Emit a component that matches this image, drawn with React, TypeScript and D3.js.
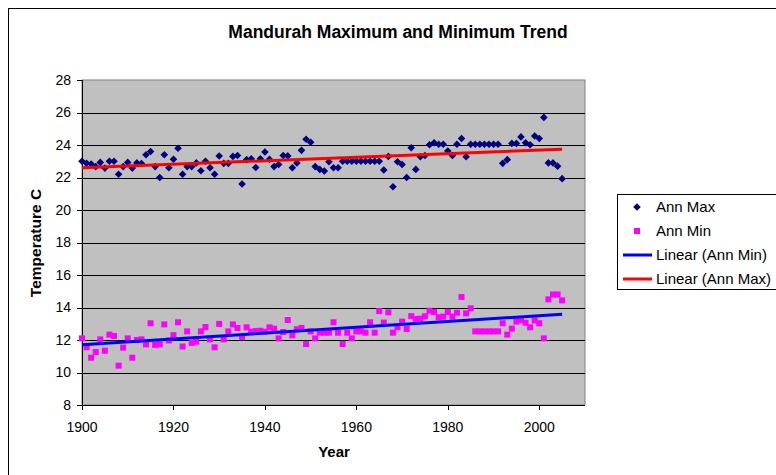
import React from 'react';
import * as d3 from 'd3';

const years = d3.range(1900, 2006);

const annMax = [
  23.0, 22.87, 22.83, 22.67, 22.93, 22.58, 23.0, 23.0, 22.2, 22.67,
  22.93, 22.58, 22.9, 22.86, 23.4, 23.6, 22.67, 22.0, 23.4, 22.6,
  23.12, 23.8, 22.2, 22.67, 22.67, 22.9, 22.42, 23.0, 22.6, 22.2,
  23.32, 22.87, 22.87, 23.3, 23.35, 21.6, 23.1, 23.15, 22.62, 23.15,
  23.57, 23.12, 22.67, 22.8, 23.35, 23.33, 22.6, 22.9, 23.67, 24.35,
  24.17, 22.67, 22.5, 22.4, 22.97, 22.6, 22.6, 23.0, 23.0, 23.0,
  23.0, 23.0, 23.0, 23.0, 23.0, 23.0, 22.46, 23.3, 21.43, 22.97,
  22.8, 22.0, 23.83, 22.5, 23.28, 23.35, 24.02, 24.14, 24.05, 24.05,
  23.63, 23.35, 24.05, 24.4, 23.28, 24.05, 24.05, 24.05, 24.05, 24.05,
  24.05, 24.05, 22.87, 23.1, 24.1, 24.1, 24.5, 24.14, 24.02, 24.55,
  24.4, 25.7, 22.9, 22.9, 22.7, 21.93,
];

const annMin = [
  12.1, 11.55, 10.91, 11.26, 12.04, 11.34, 12.33, 12.25, 10.42, 11.53,
  12.1, 10.91, 12.0, 12.04, 11.73, 13.03, 11.7, 11.73, 12.96, 11.97,
  12.3, 13.09, 11.6, 12.53, 11.82, 11.9, 12.53, 12.8, 12.04, 11.55,
  12.99, 12.04, 12.53, 12.96, 12.74, 12.18, 12.78, 12.51, 12.55, 12.57,
  12.51, 12.78, 12.7, 12.1, 12.49, 13.23, 12.29, 12.66, 12.74, 11.75,
  12.53, 12.1, 12.45, 12.45, 12.45, 13.09, 12.45, 11.75, 12.45, 12.1,
  12.53, 12.53, 12.45, 13.09, 12.45, 13.78, 13.07, 13.7, 12.45, 12.78,
  13.13, 12.68, 13.47, 13.3, 13.31, 13.46, 13.8, 13.72, 13.4, 13.44,
  13.72, 13.44, 13.68, 14.65, 13.64, 13.95, 12.53, 12.53, 12.53, 12.53,
  12.53, 12.53, 13.03, 12.33, 12.7, 13.13, 13.23, 13.06, 12.78, 13.2,
  13.03, 12.1, 14.5, 14.8, 14.8, 14.44,
];

const xTicks = [1900, 1920, 1940, 1960, 1980, 2000];
const yTicks = [8, 10, 12, 14, 16, 18, 20, 22, 24, 26, 28];

const title = 'Mandurah Maximum and Minimum Trend';
const xTitle = 'Year';
const yTitle = 'Temperature C';
const legendItems = ['Ann Max', 'Ann Min', 'Linear (Ann Min)', 'Linear (Ann Max)'];

function linReg(xs: number[], ys: number[]) {
  const mx = d3.mean(xs)!;
  const my = d3.mean(ys)!;
  let num = 0, den = 0;
  for (let i = 0; i < xs.length; i++) {
    num += (xs[i] - mx) * (ys[i] - my);
    den += (xs[i] - mx) * (xs[i] - mx);
  }
  const b = num / den;
  const a = my - b * mx;
  return (x: number) => a + b * x;
}

const FONT = '"Liberation Sans", Arial, sans-serif';

export default function App() {
  const W = 776, H = 475;
  const L = 82, R = 585, T = 80, B = 405;
  const x = d3.scaleLinear().domain([1900, 2010]).range([L, R]);
  const y = d3.scaleLinear().domain([8, 28]).range([B, T]);

  const fMax = linReg(years, annMax);
  const fMin = linReg(years, annMin);
  const x0 = years[0], x1 = years[years.length - 1];
  const seg = d3.line<[number, number]>().x((d) => x(d[0])).y((d) => y(d[1]));
  const maxLine = seg([[x0, fMax(x0)], [x1, fMax(x1)]]);
  const minLine = seg([[x0, fMin(x0)], [x1, fMin(x1)]]);

  const diamond = (cx: number, cy: number, r: number) =>
    `M${cx},${cy - r}L${cx + r},${cy}L${cx},${cy + r}L${cx - r},${cy}Z`;

  const legY = [207, 231, 255, 279];

  return (
    <svg width={W} height={H} style={{ position: 'absolute', left: 0, top: 0, background: '#fff' }} fontFamily={FONT}>
      <rect x={8.5} y={8.5} width={900} height={600} fill="#fff" stroke="#000" strokeWidth={1} />
      <text x={398} y={38} textAnchor="middle" fontSize={17.5} fontWeight="bold" fill="#000">{title}</text>

      {/* plot area */}
      <rect x={L} y={T} width={R - L} height={B - T} fill="#C0C0C0" stroke="#808080" strokeWidth={1} />
      {yTicks.filter((t) => t !== 8 && t !== 28).map((t) => (
        <line key={t} x1={L} x2={R} y1={Math.round(y(t)) + 0.5} y2={Math.round(y(t)) + 0.5} stroke="#000" strokeWidth={1} />
      ))}

      {/* axes */}
      <line x1={L + 0.5} x2={L + 0.5} y1={T} y2={B} stroke="#000" />
      <line x1={L} x2={R} y1={B + 0.5} y2={B + 0.5} stroke="#000" />
      {yTicks.map((t) => (
        <g key={t}>
          <line x1={L - 5} x2={L} y1={Math.round(y(t)) + 0.5} y2={Math.round(y(t)) + 0.5} stroke="#000" />
          <text x={L - 11} y={y(t)} dy="0.35em" textAnchor="end" fontSize={14} fill="#000">{t}</text>
        </g>
      ))}
      {xTicks.map((t) => (
        <g key={t}>
          <line x1={Math.round(x(t)) + 0.5} x2={Math.round(x(t)) + 0.5} y1={B} y2={B + 5} stroke="#000" />
          <text x={x(t)} y={B + 27} textAnchor="middle" fontSize={14} fill="#000">{t}</text>
        </g>
      ))}
      <text x={334} y={457} textAnchor="middle" fontSize={15} fontWeight="bold" fill="#000">{xTitle}</text>
      <text transform={`translate(41,${243}) rotate(-90)`} textAnchor="middle" fontSize={15.5} fontWeight="bold" fill="#000">{yTitle}</text>

      {/* data */}
      {years.map((yr, i) => (
        <path key={'mx' + yr} d={diamond(x(yr), y(annMax[i]), 3.8)} fill="#000080" />
      ))}
      {years.map((yr, i) => (
        <rect key={'mn' + yr} x={x(yr) - 3} y={y(annMin[i]) - 3} width={6} height={6} fill="#FF00FF" />
      ))}
      <path d={minLine!} stroke="#0000FF" strokeWidth={3} fill="none" />
      <path d={maxLine!} stroke="#FF0000" strokeWidth={3} fill="none" />

      {/* legend */}
      <rect x={617.5} y={194.5} width={300} height={95} fill="#fff" stroke="#000" />
      <path d={diamond(637, legY[0], 3.8)} fill="#000080" />
      <rect x={634} y={legY[1] - 3} width={6} height={6} fill="#FF00FF" />
      <line x1={623} x2={652} y1={legY[2]} y2={legY[2]} stroke="#0000FF" strokeWidth={3} />
      <line x1={623} x2={652} y1={legY[3]} y2={legY[3]} stroke="#FF0000" strokeWidth={3} />
      {legendItems.map((s, i) => (
        <text key={s} x={656} y={legY[i]} dy="0.35em" fontSize={15} fill="#000">{s}</text>
      ))}
    </svg>
  );
}
